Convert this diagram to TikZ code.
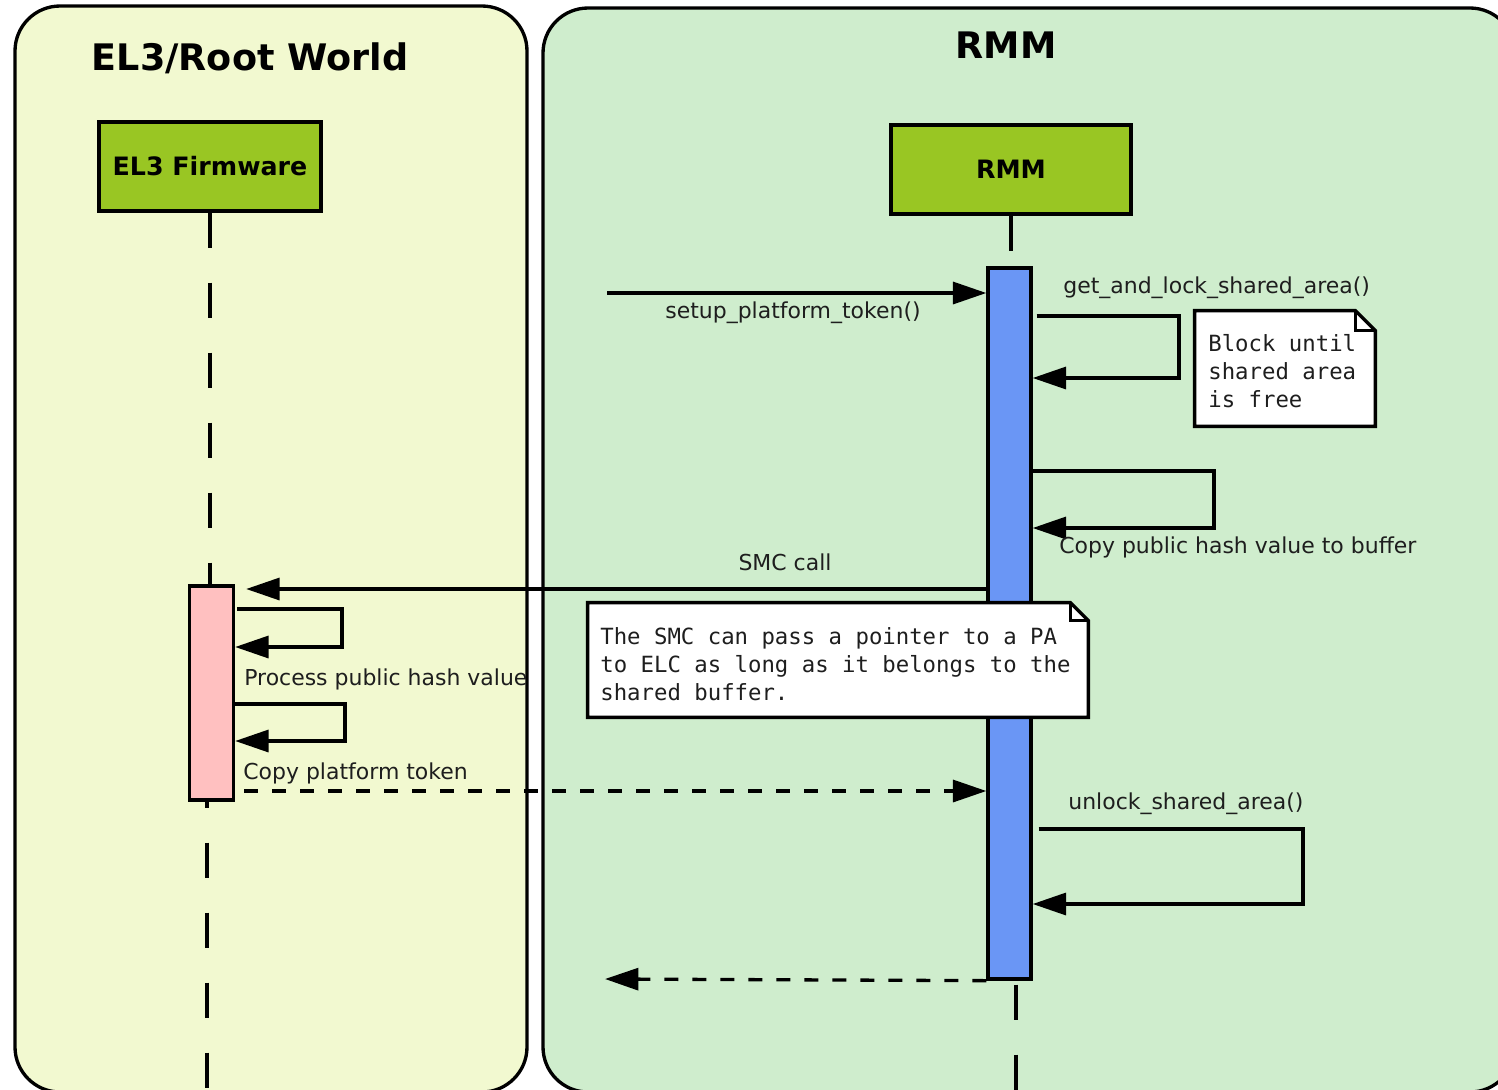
\documentclass[tikz,border=0pt]{standalone}
\usepackage{fontspec}
\setmainfont{DejaVu Sans}
\setmonofont{DejaVu Sans Mono}
\usetikzlibrary{arrows.meta,calc}

\newlength\unitpx
\setlength\unitpx{0.02cm}

\definecolor{rootbg}{HTML}{F2F9D0}
\definecolor{rmmbg}{HTML}{CFEDCD}
\definecolor{hdrgreen}{HTML}{99C623}
\definecolor{actblue}{HTML}{6A96F5}
\definecolor{actpink}{HTML}{FFC0C0}
\definecolor{lbltext}{HTML}{1E1E1E}

\tikzset{
  lw/.style={line width=1.9pt},
  panel/.style={draw, lw, rounded corners=45\unitpx, inner sep=0pt},
  paneltitle/.style={font=\bfseries\fontsize{20.8}{24}\selectfont, inner sep=0pt},
  header/.style={draw, lw, fill=hdrgreen, inner sep=0pt,
    font=\bfseries\fontsize{14.4}{17}\selectfont},
  actbox/.style={draw, lw, inner sep=0pt},
  lifeline/.style={lw, dash pattern=on 35\unitpx off 35\unitpx},
  msg/.style={draw, lw, -{Triangle[length=19pt,width=12.5pt]}},
  retmsg/.style={msg, dash pattern=on 14\unitpx off 14\unitpx},
  lbl/.style={font=\fontsize{12.5}{15}\selectfont, text=lbltext, inner sep=0pt},
  noteframe/.style={inner sep=0pt},
  noteline/.style={draw, lw, fill=white, line join=miter},
  notetxt/.style={font=\ttfamily\fontsize{12.7}{15.9}\selectfont, align=left,
    inner sep=0pt, text=lbltext},
}

\begin{document}
\begin{tikzpicture}[x=\unitpx, y=-\unitpx]
  \useasboundingbox (0,0) rectangle (1498,1089);
  \clip (0,0) rectangle (1498,1089);
  \fill[white] (0,0) rectangle (1498,1089);

  % swimlanes
  \node[panel, fill=rootbg, minimum width=512\unitpx, minimum height=1086\unitpx]
    (rootlane) at (271,549) {};
  \node[panel, fill=rmmbg, minimum width=972\unitpx, minimum height=1084\unitpx]
    (rmmlane) at (1029,550) {};
  \node[paneltitle] (roottitle) at (250,58) {EL3/Root World};
  \node[paneltitle] (rmmtitle) at (1006,45) {RMM};

  % participants
  \node[header, minimum width=222\unitpx, minimum height=89\unitpx]
    (el3) at (210,166.5) {EL3 Firmware};
  \node[header, minimum width=240\unitpx, minimum height=89\unitpx]
    (rmm) at (1011,169.5) {RMM};

  % activations
  \node[actbox, fill=actpink, minimum width=44\unitpx, minimum height=214\unitpx]
    (el3act) at (211.5,693) {};
  \node[actbox, fill=actblue, minimum width=43\unitpx, minimum height=711\unitpx]
    (rmmact) at (1009.5,623.5) {};

  % lifelines
  \coordinate (el3end) at (207,1095);
  \coordinate (rmmend) at (1016,1095);
  \draw[lifeline] (el3.south) -- (el3.south |- el3act.north);
  \draw[lifeline, dash phase=29\unitpx] (el3act.south -| el3end) -- (el3end);
  \draw[lifeline] (rmm.south) -- (rmm.south |- rmmact.north);
  \draw[lifeline, dash phase=66\unitpx] (rmmact.south -| rmmend) -- (rmmend);

  % note: blocking lock
  \node[noteframe, minimum width=180\unitpx, minimum height=115\unitpx]
    (note1) at (1285,368.5) {};
  \draw[noteline] (note1.south west) -- (note1.north west)
    -- ([xshift=-20\unitpx]note1.north east) -- ([yshift=-20\unitpx]note1.north east)
    -- (note1.south east) -- cycle;
  \draw[lw, line join=miter] ([xshift=-20\unitpx]note1.north east)
    |- ([yshift=-20\unitpx]note1.north east);
  \node[notetxt, anchor=north west] (note1txt) at (1208,334)
    {Block until\\shared area\\is free};

  % setup_platform_token()
  \coordinate (setupsrc) at (607,293);
  \draw[msg] (setupsrc) -- (setupsrc -| rmmact.west);
  \node[lbl, anchor=mid] (setuplbl) at (793,314) {setup\_platform\_token()};

  % get_and_lock_shared_area()
  \coordinate (lockA) at (1179,316);
  \coordinate (lockB) at (1179,378);
  \draw[msg, line join=miter] ([xshift=4\unitpx]lockA -| rmmact.east) -- (lockA)
    -- (lockB) -- (lockB -| rmmact.east);
  \node[lbl, anchor=mid west] (locklbl) at (1063,289) {get\_and\_lock\_shared\_area()};

  % copy public hash value
  \coordinate (hashA) at (1214,471);
  \coordinate (hashB) at (1214,528);
  \draw[msg, line join=miter] (hashA -| rmmact.east) -- (hashA)
    -- (hashB) -- (hashB -| rmmact.east);
  \node[lbl, anchor=mid west] (hashlbl) at (1059,549) {Copy public hash value to buffer};

  % SMC call
  \coordinate (smcy) at (600,589);
  \draw[msg, shorten >=11\unitpx] (smcy -| rmmact.west) -- (smcy -| el3act.east);
  \node[lbl, anchor=mid] (smclbl) at (785,566) {SMC call};

  % note: pointer passed with the SMC
  \node[noteframe, minimum width=500\unitpx, minimum height=114\unitpx]
    (note2) at (838,660) {};
  \draw[noteline] (note2.south west) -- (note2.north west)
    -- ([xshift=-18\unitpx]note2.north east) -- ([yshift=-18\unitpx]note2.north east)
    -- (note2.south east) -- cycle;
  \draw[lw, line join=miter] ([xshift=-18\unitpx]note2.north east)
    |- ([yshift=-18\unitpx]note2.north east);
  \node[notetxt, anchor=north west] (note2txt) at (600,627)
    {The SMC can pass a pointer to a PA\\to ELC as long as it belongs to the\\shared buffer.};

  % process public hash value
  \coordinate (procA) at (342,609);
  \coordinate (procB) at (342,647);
  \draw[msg, line join=miter] ([xshift=2\unitpx]procA -| el3act.east) -- (procA)
    -- (procB) -- (procB -| el3act.east);
  \node[lbl, anchor=mid west] (proclbl) at (244,681) {Process public hash value};

  % copy platform token
  \coordinate (tokA) at (345,704);
  \coordinate (tokB) at (345,741);
  \draw[msg, line join=miter] (tokA -| el3act.east) -- (tokA)
    -- (tokB) -- (tokB -| el3act.east);
  \node[lbl, anchor=mid west] (toklbl) at (243,775) {Copy platform token};

  % token handed back to RMM
  \coordinate (backy) at (600,791);
  \draw[retmsg, shorten <=9\unitpx] (backy -| el3act.east) -- (backy -| rmmact.west);

  % unlock_shared_area()
  \coordinate (unlA) at (1303,829);
  \coordinate (unlB) at (1303,904);
  \draw[msg, line join=miter] ([xshift=6\unitpx]unlA -| rmmact.east) -- (unlA)
    -- (unlB) -- (unlB -| rmmact.east);
  \node[lbl, anchor=mid west] (unllbl) at (1068,805) {unlock\_shared\_area()};

  % final return
  \coordinate (retend) at (605,979);
  \draw[retmsg] (rmmact.south west) -- (retend);
\end{tikzpicture}
\end{document}
